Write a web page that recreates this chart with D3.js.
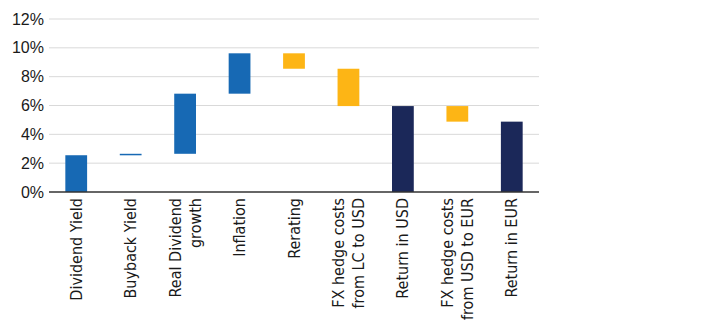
<!DOCTYPE html>
<html>
<head>
<meta charset="utf-8">
<script src="https://cdn.jsdelivr.net/npm/d3@7"></script>
<style>
  body { margin: 0; background: #fff; }
  svg text { font-family: "Liberation Sans Narrow", "DejaVu Sans Condensed", sans-serif; fill: #1a1a1a; }
</style>
</head>
<body>
<div id="chart"></div>
<script>
// waterfall steps, values in %
const categories = [
    ["Dividend Yield"],
    ["Buyback Yield"],
    ["Real Dividend", "growth"],
    ["Inflation"],
    ["Rerating"],
    ["FX hedge costs", "from LC to USD"],
    ["Return in USD"],
    ["FX hedge costs", "from USD to EUR"],
    ["Return in EUR"]
];
const barStart = [0, 2.55, 2.65, 6.82, 9.62, 8.55, 0, 5.96, 0];
const barEnd = [2.55, 2.65, 6.82, 9.62, 8.55, 5.96, 5.96, 4.88, 4.88];
const barKind = ["up", "up", "up", "up", "down", "down", "total", "down", "total"];
const yTicks = [0, 2, 4, 6, 8, 10, 12];

const colors = { up: "#1769b4", down: "#fdb515", total: "#1b2859" };

const width = 728, height = 330;
const margin = { top: 19, right: 189, bottom: 138, left: 49 };
const innerW = width - margin.left - margin.right,
    innerH = height - margin.top - margin.bottom;

const svg = d3.select("#chart")
    .append("svg")
    .attr("width", width)
    .attr("height", height);

const g = svg.append("g")
    .attr("transform", "translate(" + margin.left + "," + margin.top + ")");

const x = d3.scaleBand()
    .domain(d3.range(categories.length))
    .range([0, innerW])
    .paddingInner(0.6)
    .paddingOuter(0.3);

const y = d3.scaleLinear()
    .domain([0, 12])
    .range([innerH, 0]);

// gridlines
g.append("g")
    .selectAll("line")
    .data(yTicks.filter(d => d > 0))
    .enter()
    .append("line")
    .attr("x1", 0)
    .attr("x2", innerW)
    .attr("y1", d => y(d))
    .attr("y2", d => y(d))
    .attr("stroke", "#d9d9d9")
    .attr("stroke-width", 1);

// y axis labels
const yAxis = g.append("g")
    .call(d3.axisLeft(y).tickValues(yTicks).tickFormat(d => d + "%").tickSize(0).tickPadding(5));
yAxis.select(".domain").remove();
yAxis.selectAll("text")
    .style("font-size", "16px")
    .style("font-family", "'Liberation Sans Narrow', sans-serif")
    .attr("fill", "#1a1a1a");

// bars
g.selectAll("rect.bar")
    .data(categories.map((c, i) => i))
    .enter()
    .append("rect")
    .attr("class", "bar")
    .attr("x", i => x(i))
    .attr("width", x.bandwidth())
    .attr("y", i => y(Math.max(barStart[i], barEnd[i])))
    .attr("height", i => Math.max(1.5, Math.abs(y(barStart[i]) - y(barEnd[i]))))
    .attr("fill", i => colors[barKind[i]]);

// baseline
g.append("line")
    .attr("x1", 0)
    .attr("x2", innerW)
    .attr("y1", y(0))
    .attr("y2", y(0))
    .attr("stroke", "#333")
    .attr("stroke-width", 1.5);

// category labels, rotated
const lineH = 20;
const labels = g.append("g")
    .selectAll("text")
    .data(categories)
    .enter()
    .append("text")
    .attr("transform", (d, i) => "translate(" + (x(i) + x.bandwidth() / 2) + "," + (innerH + 6) + ") rotate(-90)")
    .attr("text-anchor", "end")
    .style("font-size", "16px");

labels.each(function(d) {
    const n = d.length;
    d3.select(this).selectAll("tspan")
        .data(d)
        .enter()
        .append("tspan")
        .attr("x", 0)
        .attr("y", (t, k) => (k - (n - 1) / 2) * lineH)
        .attr("dy", "0.35em")
        .text(t => t);
});
</script>
</body>
</html>
